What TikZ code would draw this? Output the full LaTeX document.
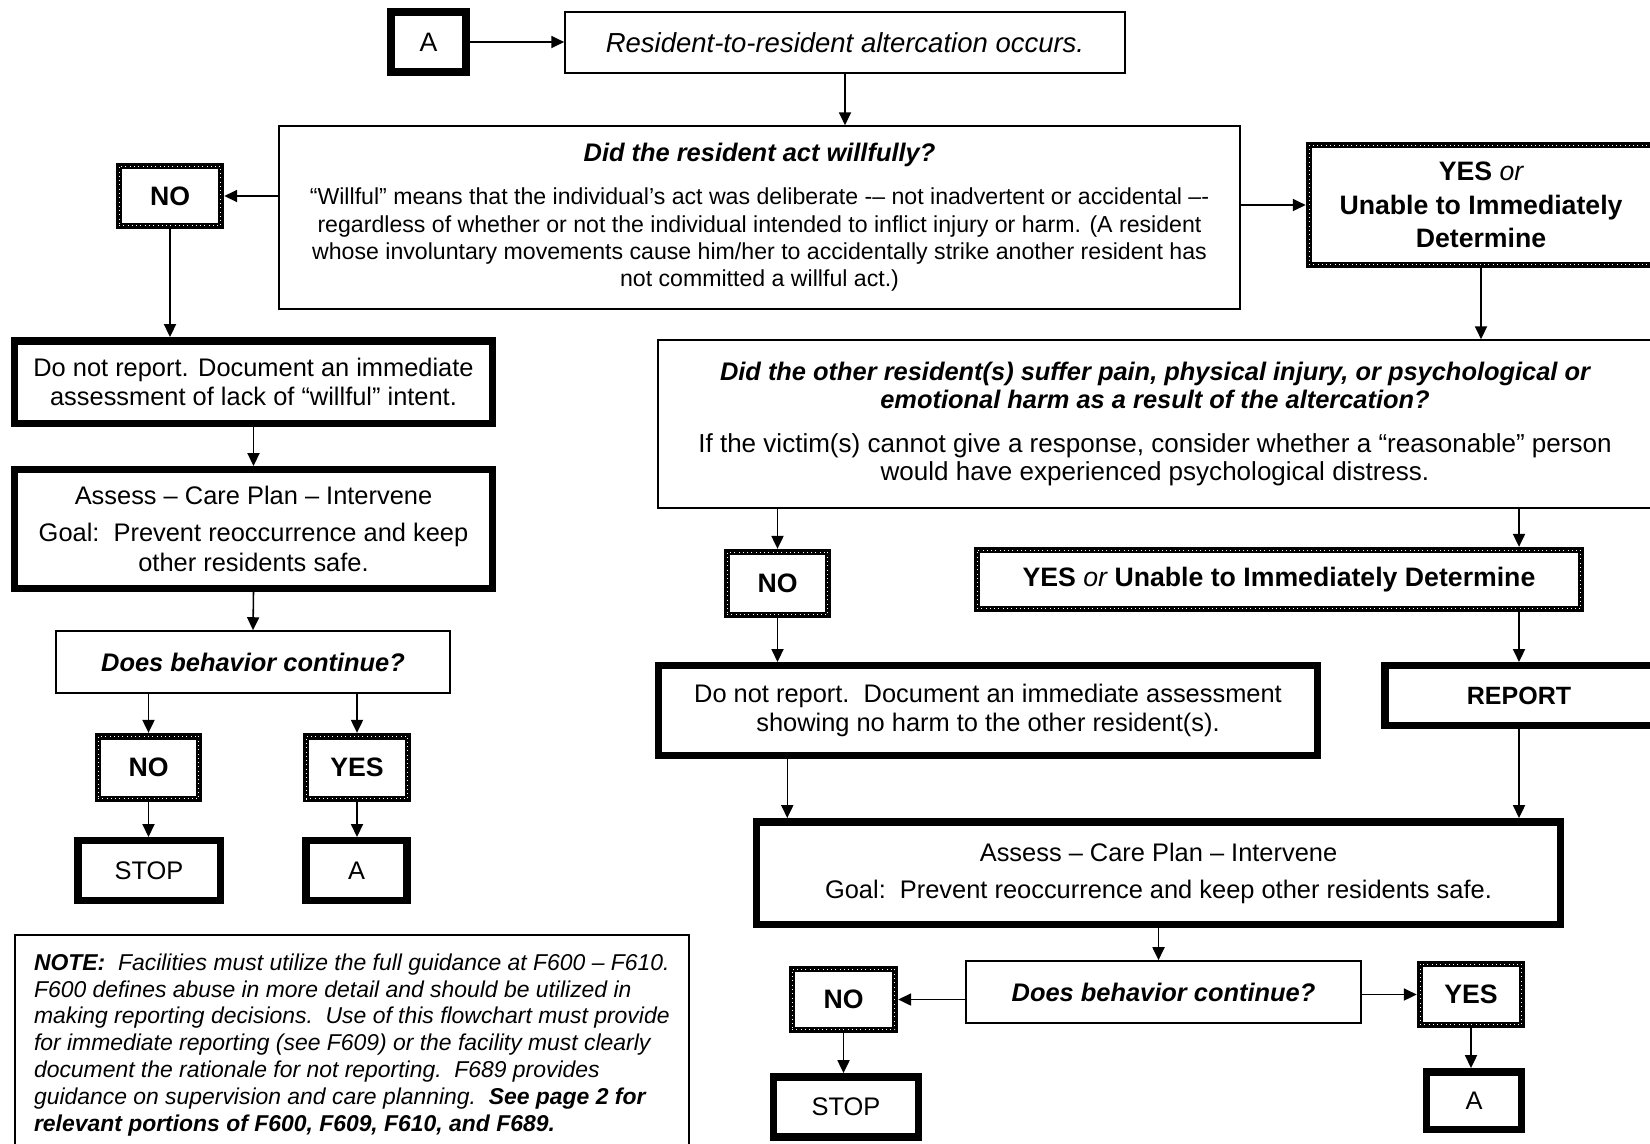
\documentclass[tikz,border=0pt]{standalone}
\usepackage{fontspec}
\setmainfont{Liberation Sans}
\usetikzlibrary{arrows.meta}

\begin{document}
\begin{tikzpicture}[
    x=0.48pt, y=-0.48pt,
    >={Triangle[length=6.2pt, width=5.8pt]},
    flow/.style={->, line width=0.75pt},
    thin_box/.style={draw, line width=0.8pt, align=center, inner sep=0pt,
        font=\fontsize{12.2}{13.6}\selectfont},
    heavy_box/.style={draw, line width=3.6pt, align=center, inner sep=0pt,
        font=\fontsize{12.2}{14.2}\selectfont},
    answer_box/.style={draw, line width=3.2pt, align=center, inner sep=0pt,
        font=\fontsize{12.8}{16}\selectfont\bfseries,
        postaction={draw=white, line width=0.45pt, dash pattern=on 0.45pt off 1.6pt}},
    question/.style={font=\fontsize{12.2}{13.4}\selectfont\bfseries\itshape}
]
    \useasboundingbox (0,0) rectangle (1650,1143);
    \clip (0,0) rectangle (1650,1143);

    % === 1. Altercation and willful question ===
    \node[heavy_box, minimum width=36.2pt, minimum height=29pt,
        font=\fontsize{12.8}{15}\selectfont] (a_top) at (428.5,42) {A};
    \node[thin_box, minimum width=268.8pt, minimum height=29.3pt,
        font=\fontsize{13.2}{15}\selectfont\itshape] (event) at (845,42.5)
        {Resident-to-resident altercation occurs.};

    \node[thin_box, minimum width=461.3pt, minimum height=87.8pt,
        font=\fontsize{11.1}{13.1}\selectfont] (willful) at (759.5,217.5)
        {{\fontsize{12.2}{13.1}\selectfont\bfseries\itshape Did the resident act willfully?}\\[7.5pt]
         “Willful” means that the individual’s act was deliberate -– not inadvertent or accidental –-\\
         regardless of whether or not the individual intended to inflict injury or harm. (A resident\\
         whose involuntary movements cause him/her to accidentally strike another resident has\\
         not committed a willful act.)};

    \node[answer_box, minimum width=48.9pt, minimum height=28.7pt] (no_willful) at (170,196) {NO};
    \node[answer_box, minimum width=165.1pt, minimum height=57.5pt] (yes_willful) at (1481,205)
        {YES {\mdseries\itshape or}\\ Unable to Immediately\\ Determine};

    \draw[flow] (a_top.east) -- (a_top.east -| event.west);
    \draw[flow] (event.south) -- (event.south |- willful.north);
    \draw[flow] (willful.west |- no_willful) -- (no_willful.east);
    \draw[flow] (willful.east |- yes_willful) -- (yes_willful.west);

    % === 2. Not willful ===
    \node[heavy_box, minimum width=229.2pt, minimum height=39.6pt] (no_report_l) at (253.5,382)
        {Do not report. Document an immediate\\ assessment of lack of “willful” intent.};
    \node[heavy_box, minimum width=229.2pt, minimum height=56.9pt] (assess_l) at (253.5,529)
        {Assess – Care Plan – Intervene\\[3.5pt] Goal:\ \ Prevent reoccurrence and keep\\ other residents safe.};
    \node[thin_box, question, minimum width=189.1pt, minimum height=29.8pt] (continue_l) at (253,662)
        {Does behavior continue?};
    \node[answer_box, minimum width=48.4pt, minimum height=30.1pt] (no_l) at (148.5,767.5) {NO};
    \node[answer_box, minimum width=48.9pt, minimum height=30.1pt] (yes_l) at (357,767.5) {YES};
    \node[heavy_box, minimum width=68.4pt, minimum height=28.6pt] (stop_l) at (149,870.5) {STOP};
    \node[heavy_box, minimum width=48.7pt, minimum height=28.6pt] (a_l) at (356.5,870.5) {A};

    \draw[flow] (no_willful.south) -- (no_willful.south |- no_report_l.north);
    \draw[flow] (no_report_l.south) -- (assess_l.north);
    \draw[flow] (assess_l.south) -- (continue_l.north);
    \draw[flow] (no_l.north |- continue_l.south) -- (no_l.north);
    \draw[flow] (yes_l.north |- continue_l.south) -- (yes_l.north);
    \draw[flow] (no_l.south) -- (no_l.south |- stop_l.north);
    \draw[flow] (yes_l.south) -- (yes_l.south |- a_l.north);

    % Note
    \node[thin_box, anchor=north west, align=left, inner xsep=0pt, inner ysep=9pt,
        minimum width=323.5pt, font=\fontsize{11}{12.9}\selectfont\itshape] (note) at (14,934)
        {{\bfseries NOTE:}\ \ Facilities must utilize the full guidance at F600 – F610.\\
         F600 defines abuse in more detail and should be utilized in\\
         making reporting decisions.\ \ Use of this flowchart must provide\\
         for immediate reporting (see F609) or the facility must clearly\\
         document the rationale for not reporting.\ \ F689 provides\\
         guidance on supervision and care planning.\ \ {\bfseries See page 2 for}\\
         {\bfseries relevant portions of F600, F609, F610, and F689.}};

    % === 3. Willful or unknown ===
    \node[thin_box, minimum width=477pt, minimum height=80.6pt] (harm) at (1155,424)
        {{\bfseries\itshape Did the other resident(s) suffer pain, physical injury, or psychological or}\\
         {\bfseries\itshape emotional harm as a result of the altercation?}\\[7.5pt]
         {\fontsize{12.5}{14.6}\selectfont If the victim(s) cannot give a response, consider whether a “reasonable” person}\\
         {\fontsize{12.5}{14.6}\selectfont would have experienced psychological distress.}};
    \node[answer_box, minimum width=48.4pt, minimum height=30.1pt] (no_harm) at (777.5,583.5) {NO};
    \node[answer_box, minimum width=289.8pt, minimum height=28.2pt] (yes_harm) at (1279,579.5)
        {YES {\mdseries\itshape or} Unable to Immediately Determine};
    \node[heavy_box, minimum width=316.1pt, minimum height=43pt] (no_report_r) at (988,710.5)
        {Do not report.\ \ Document an immediate assessment\\ showing no harm to the other resident(s).};
    \node[heavy_box, minimum width=128.9pt, minimum height=28.6pt,
        font=\fontsize{12}{15}\selectfont\bfseries] (report) at (1519,695.5) {REPORT};
    \node[heavy_box, minimum width=385.7pt, minimum height=49.2pt] (assess_r) at (1158.5,873)
        {Assess – Care Plan – Intervene\\[3.5pt] Goal:\ \ Prevent reoccurrence and keep other residents safe.};
    \node[thin_box, question, minimum width=189.6pt, minimum height=29.8pt] (continue_r) at (1163.5,992)
        {Does behavior continue?};
    \node[answer_box, minimum width=49.3pt, minimum height=29.2pt] (no_r) at (843.5,999.5) {NO};
    \node[answer_box, minimum width=48.9pt, minimum height=29.2pt] (yes_r) at (1471,994.5) {YES};
    \node[heavy_box, minimum width=69.4pt, minimum height=29pt] (stop_r) at (846,1107) {STOP};
    \node[heavy_box, minimum width=45.4pt, minimum height=27.6pt] (a_r) at (1474,1100.5) {A};

    \draw[flow] (yes_willful.south) -- (yes_willful.south |- harm.north);
    \draw[flow] (no_harm.north |- harm.south) -- (no_harm.north);
    \draw[flow] (report.north |- harm.south) -- (report.north |- yes_harm.north);
    \draw[flow] (no_harm.south) -- (no_harm.south |- no_report_r.north);
    \draw[flow] (report.north |- yes_harm.south) -- (report.north);
    \draw[flow] ([xshift=63.5pt]no_report_r.south west) -- ([xshift=63.5pt]no_report_r.south west |- assess_r.north);
    \draw[flow] (report.south) -- (report.south |- assess_r.north);
    \draw[flow] (assess_r.south) -- (assess_r.south |- continue_r.north);
    \draw[flow] (continue_r.west |- no_r) -- (no_r.east);
    \draw[flow] (continue_r.east |- yes_r) -- (yes_r.west);
    \draw[flow] (no_r.south) -- (no_r.south |- stop_r.north);
    \draw[flow] (yes_r.south) -- (yes_r.south |- a_r.north);

\end{tikzpicture}
\end{document}
